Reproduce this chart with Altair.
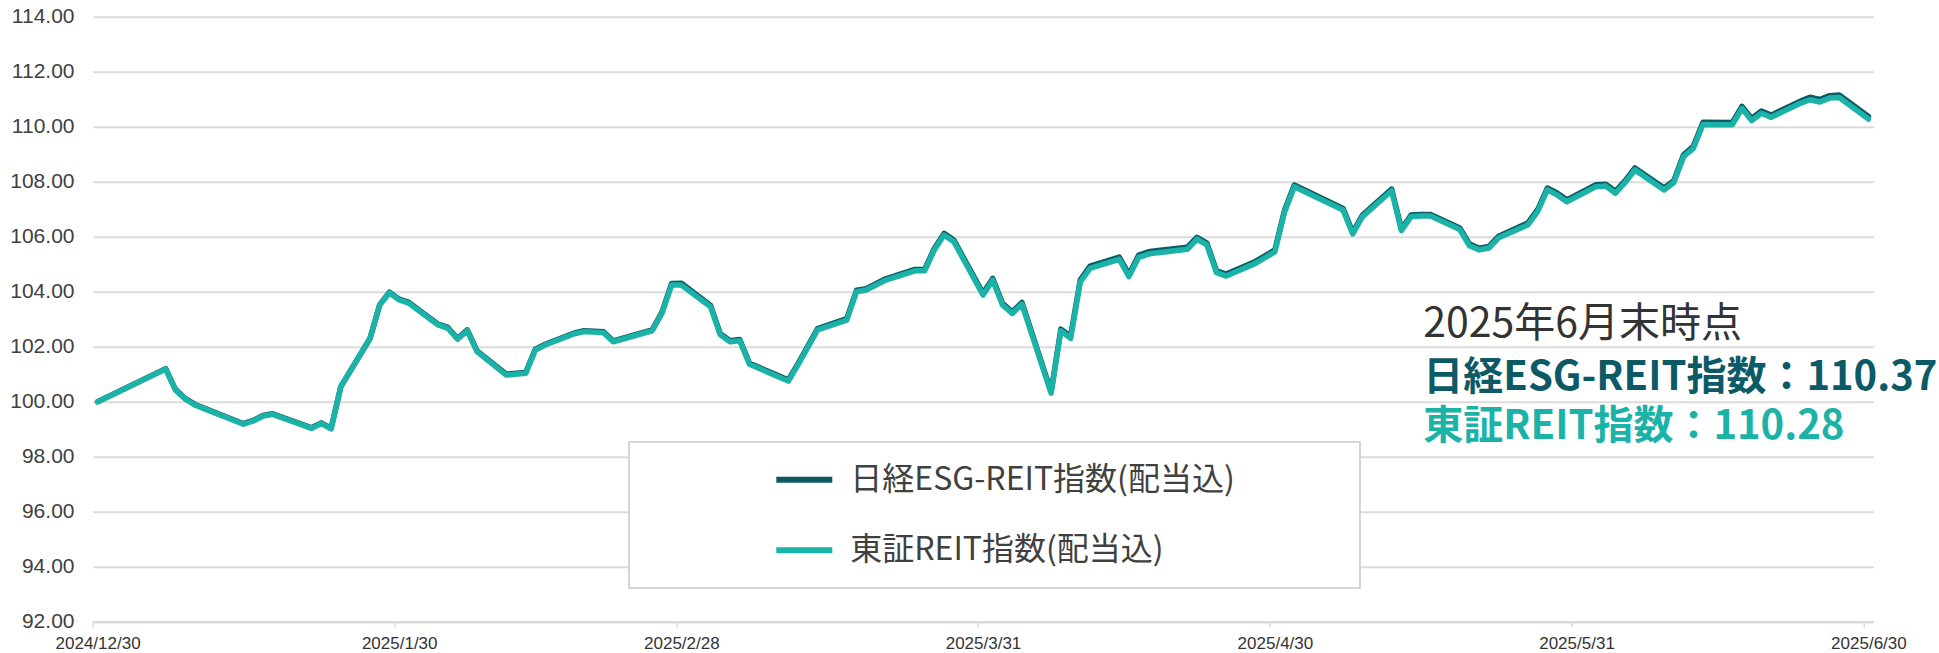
import altair as alt
import pandas as pd

# ---------------- data ----------------
dates = [
    "2024-12-30",
    "2025-01-06", "2025-01-07", "2025-01-08", "2025-01-09", "2025-01-10",
    "2025-01-14", "2025-01-15", "2025-01-16", "2025-01-17",
    "2025-01-20", "2025-01-21", "2025-01-22", "2025-01-23", "2025-01-24",
    "2025-01-27", "2025-01-28", "2025-01-29", "2025-01-30", "2025-01-31",
    "2025-02-03", "2025-02-04", "2025-02-05", "2025-02-06", "2025-02-07",
    "2025-02-10", "2025-02-12", "2025-02-13", "2025-02-14",
    "2025-02-17", "2025-02-18", "2025-02-19", "2025-02-20", "2025-02-21",
    "2025-02-25", "2025-02-26", "2025-02-27", "2025-02-28",
    "2025-03-03", "2025-03-04", "2025-03-05", "2025-03-06", "2025-03-07",
    "2025-03-10", "2025-03-11", "2025-03-12", "2025-03-13", "2025-03-14",
    "2025-03-17", "2025-03-18", "2025-03-19", "2025-03-21",
    "2025-03-24", "2025-03-25", "2025-03-26", "2025-03-27", "2025-03-28",
    "2025-03-31",
    "2025-04-01", "2025-04-02", "2025-04-03", "2025-04-04",
    "2025-04-07", "2025-04-08", "2025-04-09", "2025-04-10", "2025-04-11",
    "2025-04-14", "2025-04-15", "2025-04-16", "2025-04-17", "2025-04-18",
    "2025-04-21", "2025-04-22", "2025-04-23", "2025-04-24", "2025-04-25",
    "2025-04-28", "2025-04-30",
    "2025-05-01", "2025-05-02",
    "2025-05-07", "2025-05-08", "2025-05-09",
    "2025-05-12", "2025-05-13", "2025-05-14", "2025-05-15", "2025-05-16",
    "2025-05-19", "2025-05-20", "2025-05-21", "2025-05-22", "2025-05-23",
    "2025-05-26", "2025-05-27", "2025-05-28", "2025-05-29", "2025-05-30",
    "2025-06-02", "2025-06-03", "2025-06-04", "2025-06-05", "2025-06-06",
    "2025-06-09", "2025-06-10", "2025-06-11", "2025-06-12", "2025-06-13",
    "2025-06-16", "2025-06-17", "2025-06-18", "2025-06-19", "2025-06-20",
    "2025-06-23", "2025-06-24", "2025-06-25", "2025-06-26", "2025-06-27",
    "2025-06-30",
]

tse_reit = [
    100.00,
    101.19, 100.43, 100.10, 99.88, 99.74, 99.18, 99.30, 99.48, 99.54,
    99.16, 99.03, 99.21, 99.01, 100.55, 102.31, 103.52, 103.96, 103.70, 103.58,
    102.79, 102.67, 102.27, 102.58, 101.82, 100.97, 101.03, 101.88, 102.06,
    102.47, 102.55, 102.53, 102.51, 102.18, 102.58, 103.21, 104.24, 104.24,
    103.45, 102.43, 102.18, 102.22, 101.36, 100.90, 100.75, 101.35, 101.98, 102.61,
    102.97, 104.00, 104.06, 104.42, 104.76, 104.76, 105.52, 106.06, 105.82, 103.88,
    104.42, 103.52, 103.21, 103.55, 100.31, 102.58, 102.30, 104.36, 104.85,
    105.18, 104.55, 105.25, 105.37, 105.42, 105.54, 105.91, 105.70, 104.69, 104.57,
    105.03, 105.45,
    106.91, 107.82, 106.97, 106.10, 106.73, 107.67, 106.22, 106.73, 106.75, 106.75,
    106.26, 105.67, 105.52, 105.59, 105.96, 106.43, 106.91, 107.70, 107.52, 107.27,
    107.82, 107.84, 107.58, 107.97, 108.43, 107.70, 107.97, 108.91, 109.21, 110.08,
    110.07, 110.66, 110.22, 110.49, 110.34, 110.85, 110.98, 110.90, 111.04, 111.06,
    110.28,
]

esg_reit = [
    100.00,
    101.20, 100.45, 100.12, 99.90, 99.76, 99.20, 99.32, 99.50, 99.56,
    99.18, 99.05, 99.23, 99.03, 100.55, 102.30, 103.53, 103.98, 103.73, 103.61,
    102.82, 102.70, 102.30, 102.61, 101.85, 101.00, 101.06, 101.91, 102.09,
    102.50, 102.58, 102.56, 102.54, 102.21, 102.61, 103.25, 104.30, 104.31,
    103.50, 102.47, 102.22, 102.26, 101.40, 100.94, 100.79, 101.39, 102.02, 102.66,
    103.02, 104.05, 104.11, 104.47, 104.81, 104.81, 105.57, 106.12, 105.88, 103.94,
    104.48, 103.58, 103.27, 103.61, 100.36, 102.64, 102.37, 104.43, 104.93,
    105.26, 104.63, 105.33, 105.45, 105.50, 105.62, 105.98, 105.77, 104.76, 104.64,
    105.10, 105.52,
    106.97, 107.88, 107.03, 106.16, 106.79, 107.73, 106.28, 106.79, 106.81, 106.81,
    106.32, 105.73, 105.58, 105.65, 106.02, 106.50, 106.98, 107.77, 107.59, 107.34,
    107.89, 107.91, 107.65, 108.04, 108.50, 107.77, 108.04, 108.98, 109.29, 110.16,
    110.15, 110.74, 110.30, 110.57, 110.42, 110.93, 111.07, 110.99, 111.13, 111.15,
    110.37,
]

series_names = ["日経ESG-REIT指数(配当込)", "東証REIT指数(配当込)"]
series_colors = ["#0b5a66", "#1bb2a8"]
y_ticks = [92, 94, 96, 98, 100, 102, 104, 106, 108, 110, 112, 114]
x_ticks = [(2024, 12, 30), (2025, 1, 30), (2025, 2, 28), (2025, 3, 31),
           (2025, 4, 30), (2025, 5, 31), (2025, 6, 30)]
note_title = "2025年6月末時点"

# ---------------- build table ----------------
rows = []
for name, vals in zip(series_names, [esg_reit, tse_reit]):
    for d, v in zip(dates, vals):
        rows.append({"date": d + "T12:00:00", "value": v, "series": name})
df = pd.DataFrame(rows)

FONT_JP = "Noto Sans CJK JP"
FONT_NUM = "Liberation Sans"

x_enc = alt.X(
    "date:T",
    scale=alt.Scale(
        domain=[alt.DateTime(year=2024, month=12, date=30),
                alt.DateTime(year=2025, month=7, date=1)],
        nice=False,
    ),
    axis=alt.Axis(
        values=[alt.DateTime(year=y, month=m, date=d) for (y, m, d) in x_ticks],
        format="%Y/%-m/%-d",
        title=None,
        grid=False,
        labelFont=FONT_NUM,
        labelFontSize=17,
        labelColor="#333333",
        labelOffset=4.86,
        labelPadding=8.6,
        labelAngle=0,
        labelFlush=False,
        labelOverlap=False,
        tickSize=5,
        tickColor="#d9d9d9",
        tickWidth=1.5,
        domainColor="#d9d9d9",
        domainWidth=2,
    ),
)
y_enc = alt.Y(
    "value:Q",
    scale=alt.Scale(domain=[92, 114], nice=False, zero=False),
    axis=alt.Axis(
        values=y_ticks,
        format=".2f",
        title=None,
        grid=True,
        gridColor="#dcdcdc",
        gridWidth=2,
        domain=False,
        ticks=False,
        labelFont=FONT_NUM,
        labelFontSize=21,
        labelColor="#404040",
        labelPadding=18.7,
    ),
)
legend = alt.Legend(
    orient="none",
    legendX=680.6,
    legendY=432,
    title=None,
    symbolType="stroke",
    symbolStrokeWidth=6,
    symbolSize=3136,
    labelFont=FONT_JP,
    labelFontSize=32,
    labelColor="#404040",
    labelOffset=15,
    labelLimit=800,
    rowPadding=23.5,
    padding=0,
)
color_enc = alt.Color(
    "series:N",
    scale=alt.Scale(domain=series_names, range=series_colors),
    legend=legend,
)

base = alt.Chart(df)

lines = [
    base.transform_filter(alt.datum.series == name)
    .mark_line(strokeWidth=5.5, strokeJoin="round", strokeCap="round")
    .encode(x=x_enc, y=y_enc, color=color_enc)
    for name in series_names
]

one = pd.DataFrame({"k": [0]})
legend_box = alt.Chart(one).mark_rect(
    fill="white", stroke="#c8c8c8", strokeWidth=1.5
).encode(
    x=alt.value(536.3), x2=alt.value(1267.3),
    y=alt.value(425.3), y2=alt.value(571.3),
)

note_lines = [
    (note_title, "#333333", "normal", 41, 308.5),
    (f"日経ESG-REIT指数：{esg_reit[-1]:.2f}", series_colors[0], "bold", 40, 361.5),
    (f"東証REIT指数：{tse_reit[-1]:.2f}", series_colors[1], "bold", 40, 410.5),
]
notes = [
    alt.Chart(one).mark_text(
        align="left", baseline="middle", font=FONT_JP,
        fontSize=fs, fontWeight=fw, color=col,
    ).encode(x=alt.value(1330.6), y=alt.value(yy), text=alt.value(txt))
    for (txt, col, fw, fs, yy) in note_lines
]

chart = alt.layer(legend_box, *lines, *notes).properties(
    width=1780.6,
    height=605,
    autosize=alt.AutoSizeParams(type="none"),
    padding={"left": 92.7, "top": 16.7, "right": 65.7, "bottom": 31.3},
    background="white",
).configure_view(stroke=None)

chart.save("out.html", embed_options={"renderer": "svg", "actions": False})
